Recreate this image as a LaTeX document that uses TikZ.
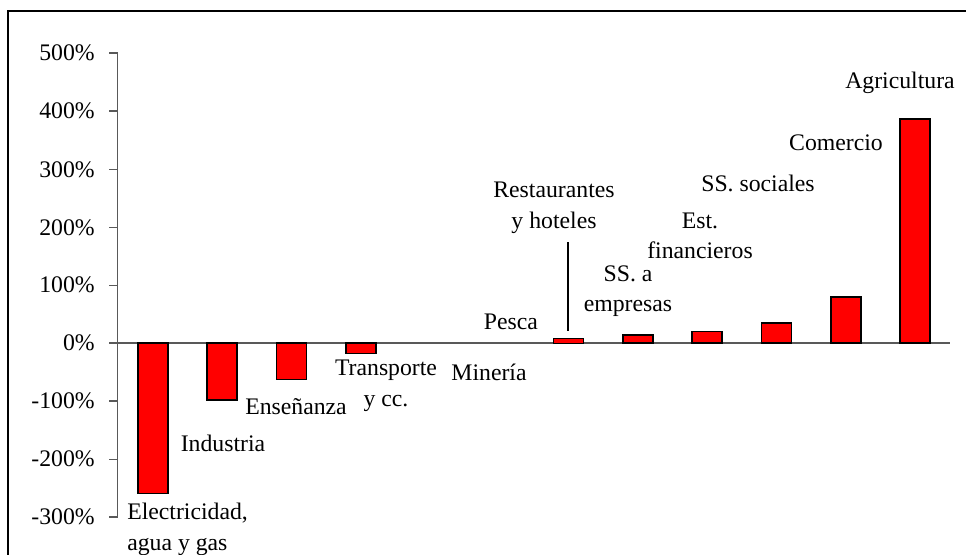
\documentclass[tikz,border=0pt]{standalone}
\usepackage{fontspec}
\setmainfont{Liberation Serif}
\tikzset{
  bar/.style={draw=black, line width=1.3pt, fill=red},
  axisline/.style={draw=black!65, line width=1pt},
  lbl/.style={inner sep=0pt, align=center, font=\fontsize{17.8}{23}\selectfont},
  pct/.style={inner sep=0pt, anchor=east, font=\fontsize{17.8}{21}\selectfont}
}
\begin{document}
\begin{tikzpicture}[x=0.75pt, y=-0.75pt]
	\useasboundingbox (0,0) rectangle (966,554);

	% Frame
	\draw[line width=2pt] (8,600) -- (8,11) -- (1000,11);

	% Axis
	\draw[axisline] (117.5,53) -- (117.5,517);
	\draw[axisline] (109,53) -- (117.5,53);
	\draw[axisline] (109,111.1) -- (117.5,111.1);
	\draw[axisline] (109,169.3) -- (117.5,169.3);
	\draw[axisline] (109,227.4) -- (117.5,227.4);
	\draw[axisline] (109,285.2) -- (117.5,285.2);
	\draw[axisline] (109,343) -- (950,343);
	\draw[axisline] (109,401.1) -- (117.5,401.1);
	\draw[axisline] (109,459.2) -- (117.5,459.2);
	\draw[axisline] (109,517) -- (117.5,517);

	\node[pct] (p500) at (95,53) {500\%};
	\node[pct] (p400) at (95,111.1) {400\%};
	\node[pct] (p300) at (95,169.3) {300\%};
	\node[pct] (p200) at (95,227.4) {200\%};
	\node[pct] (p100) at (95,285.2) {100\%};
	\node[pct] (p0) at (95,343) {0\%};
	\node[pct] (m100) at (95,401.1) {-100\%};
	\node[pct] (m200) at (95,459.2) {-200\%};
	\node[pct] (m300) at (95,517) {-300\%};

	% Negative bars
	\draw[bar] (138,343) rectangle (168,493.5);
	\draw[bar] (207.3,343) rectangle (237.3,400);
	\draw[bar] (276.5,343) rectangle (306.5,379.6);
	\draw[bar] (345.8,343) rectangle (375.8,353.5);

	% Positive bars
	\draw[bar] (553.6,343.5) rectangle (583.6,338.5);
	\draw[bar] (622.9,343) rectangle (652.9,335);
	\draw[bar] (692.2,343) rectangle (722.2,331.4);
	\draw[bar] (761.4,343) rectangle (791.4,323.2);
	\draw[bar] (830.7,343) rectangle (860.7,297.1);
	\draw[bar] (900,343) rectangle (930,119.3);

	% Labels
	\node[lbl, align=left, anchor=north west] (elec) at (127,503) {Electricidad,\\agua y gas};
	\node[lbl] (indu) at (223,443) {Industria};
	\node[lbl] (ense) at (296,407) {Enseñanza};
	\node[lbl] (tran) at (386,386) {Transporte\\y cc.};
	\node[lbl] (mine) at (489,372) {Minería};
	\node[lbl] (pesc) at (511,322) {Pesca};
	\node[lbl] (rest) at (554,208) {Restaurantes\\y hoteles};
	\node[lbl] (ssem) at (628,291) {SS. a\\empresas};
	\node[lbl] (estf) at (700,236) {Est.\\financieros};
	\node[lbl] (ssso) at (758,183) {SS. sociales};
	\node[lbl] (come) at (836,143) {Comercio};
	\node[lbl] (agri) at (900,83) {Agricultura};

	% Leader
	\coordinate (rtop) at (568,331);
	\draw[line width=1pt] (rtop |- 0,242) -- (rtop);
\end{tikzpicture}
\end{document}
